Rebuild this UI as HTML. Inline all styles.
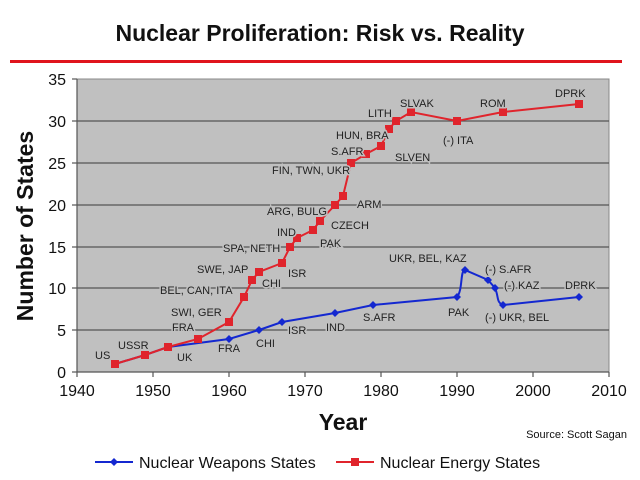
<!DOCTYPE html>
<html><head><meta charset="utf-8"><style>
html,body{margin:0;padding:0;background:#fff;}
svg{display:block;font-family:"Liberation Sans",Arial,sans-serif;}
.l{font-size:11px;fill:#222;stroke:#c0c0c0;stroke-width:3px;paint-order:stroke;}
.t{font-size:16px;fill:#111;}
</style></head><body>
<svg width="640" height="480" viewBox="0 0 640 480">
<text x="320" y="41" text-anchor="middle" font-size="23" font-weight="bold" fill="#111">Nuclear Proliferation: Risk vs. Reality</text>
<rect x="10" y="60" width="612" height="3" fill="#e0141c"/>
<rect x="77" y="79" width="532" height="293" fill="#c0c0c0" stroke="#888" stroke-width="1"/>
<g stroke="#555" stroke-width="1.2">
<line x1="77" y1="121" x2="609" y2="121"/><line x1="77" y1="163" x2="609" y2="163"/>
<line x1="77" y1="205" x2="609" y2="205"/><line x1="77" y1="247" x2="609" y2="247"/>
<line x1="77" y1="288" x2="609" y2="288"/><line x1="77" y1="330" x2="609" y2="330"/>
<line x1="77" y1="372" x2="609" y2="372"/><line x1="77" y1="79" x2="77" y2="372"/>
</g>
<g stroke="#555" stroke-width="1.2">
<line x1="72" y1="79" x2="77" y2="79"/><line x1="72" y1="121" x2="77" y2="121"/><line x1="72" y1="163" x2="77" y2="163"/><line x1="72" y1="205" x2="77" y2="205"/><line x1="72" y1="247" x2="77" y2="247"/><line x1="72" y1="288" x2="77" y2="288"/><line x1="72" y1="330" x2="77" y2="330"/><line x1="72" y1="372" x2="77" y2="372"/>
<line x1="77" y1="372" x2="77" y2="377"/><line x1="153" y1="372" x2="153" y2="377"/><line x1="229" y1="372" x2="229" y2="377"/><line x1="305" y1="372" x2="305" y2="377"/><line x1="381" y1="372" x2="381" y2="377"/><line x1="457" y1="372" x2="457" y2="377"/><line x1="533" y1="372" x2="533" y2="377"/><line x1="609" y1="372" x2="609" y2="377"/>
</g>
<g class="t" text-anchor="end">
<text x="66" y="85">35</text><text x="66" y="127">30</text><text x="66" y="169">25</text><text x="66" y="211">20</text><text x="66" y="253">15</text><text x="66" y="294">10</text><text x="66" y="336">5</text><text x="66" y="378">0</text>
</g>
<g class="t" text-anchor="middle">
<text x="77" y="396">1940</text><text x="153" y="396">1950</text><text x="229" y="396">1960</text><text x="305" y="396">1970</text><text x="381" y="396">1980</text><text x="457" y="396">1990</text><text x="533" y="396">2000</text><text x="609" y="396">2010</text>
</g>
<text x="343" y="430" text-anchor="middle" font-size="23" font-weight="bold" fill="#111">Year</text>
<text transform="translate(33,226) rotate(-90)" text-anchor="middle" font-size="23" font-weight="bold" fill="#111">Number of States</text>
<text x="627" y="438" text-anchor="end" font-size="11" fill="#111">Source: Scott Sagan</text>
<!-- blue -->
<path d="M115,364 L145,355 L168,347 L229,339 L259,330 L282,322 L335,313 L373,305 L457,297 C463,290 460,270 465,270 L488,280 L495,288 C499,297 496,302 503,305 L579,297" fill="none" stroke="#1428d0" stroke-width="2"/>
<g fill="#1428d0">
<path d="M115,360l4,4l-4,4l-4,-4z"/><path d="M145,351l4,4l-4,4l-4,-4z"/><path d="M168,343l4,4l-4,4l-4,-4z"/><path d="M229,335l4,4l-4,4l-4,-4z"/><path d="M259,326l4,4l-4,4l-4,-4z"/><path d="M282,318l4,4l-4,4l-4,-4z"/><path d="M335,309l4,4l-4,4l-4,-4z"/><path d="M373,301l4,4l-4,4l-4,-4z"/><path d="M457,293l4,4l-4,4l-4,-4z"/><path d="M465,266l4,4l-4,4l-4,-4z"/><path d="M488,276l4,4l-4,4l-4,-4z"/><path d="M495,284l4,4l-4,4l-4,-4z"/><path d="M503,301l4,4l-4,4l-4,-4z"/><path d="M579,293l4,4l-4,4l-4,-4z"/>
</g>
<!-- red -->
<polyline points="115,364 145,355 168,347 198,339 229,322 244,297 252,280 259,272 282,263 290,247 297,238 313,230 320,221 335,205 343,196 351,163 366,154 381,146 389,129 396,121 411,112 457,121 503,112 579,104" fill="none" stroke="#e0242c" stroke-width="2"/>
<g fill="#e0242c">
<rect x="111" y="360" width="8" height="8"/><rect x="141" y="351" width="8" height="8"/><rect x="164" y="343" width="8" height="8"/><rect x="194" y="335" width="8" height="8"/><rect x="225" y="318" width="8" height="8"/><rect x="240" y="293" width="8" height="8"/><rect x="248" y="276" width="8" height="8"/><rect x="255" y="268" width="8" height="8"/><rect x="278" y="259" width="8" height="8"/><rect x="286" y="243" width="8" height="8"/><rect x="293" y="234" width="8" height="8"/><rect x="309" y="226" width="8" height="8"/><rect x="316" y="217" width="8" height="8"/><rect x="331" y="201" width="8" height="8"/><rect x="339" y="192" width="8" height="8"/><rect x="347" y="159" width="8" height="8"/><rect x="362" y="150" width="8" height="8"/><rect x="377" y="142" width="8" height="8"/><rect x="385" y="125" width="8" height="8"/><rect x="392" y="117" width="8" height="8"/><rect x="407" y="108" width="8" height="8"/><rect x="453" y="117" width="8" height="8"/><rect x="499" y="108" width="8" height="8"/><rect x="575" y="100" width="8" height="8"/>
</g>
<g class="l">
<text x="95" y="359">US</text><text x="118" y="349">USSR</text><text x="177" y="361">UK</text><text x="172" y="331">FRA</text><text x="171" y="316">SWI, GER</text><text x="160" y="294">BEL, CAN, ITA</text><text x="197" y="273">SWE, JAP</text><text x="262" y="287">CHI</text><text x="288" y="277">ISR</text><text x="223" y="252">SPA, NETH</text><text x="277" y="236">IND</text><text x="320" y="247">PAK</text><text x="267" y="215">ARG, BULG</text><text x="331" y="229">CZECH</text><text x="272" y="174">FIN, TWN, UKR</text><text x="331" y="155">S.AFR</text><text x="336" y="139">HUN, BRA</text><text x="368" y="117">LITH</text><text x="400" y="107">SLVAK</text><text x="357" y="208">ARM</text><text x="395" y="161">SLVEN</text><text x="443" y="144">(-) ITA</text><text x="480" y="107">ROM</text><text x="555" y="97">DPRK</text>
<text x="218" y="352">FRA</text><text x="256" y="347">CHI</text><text x="288" y="334">ISR</text><text x="326" y="331">IND</text><text x="363" y="321">S.AFR</text><text x="448" y="316">PAK</text><text x="389" y="262">UKR, BEL, KAZ</text><text x="485" y="273">(-) S.AFR</text><text x="504" y="289">(-) KAZ</text><text x="565" y="289">DPRK</text><text x="485" y="321">(-) UKR, BEL</text>
</g>
<!-- legend -->
<line x1="95" y1="462" x2="133" y2="462" stroke="#1428d0" stroke-width="2"/>
<path d="M114,458l4,4l-4,4l-4,-4z" fill="#1428d0"/>
<text x="139" y="468" font-size="16" fill="#111">Nuclear Weapons States</text>
<line x1="336" y1="462" x2="374" y2="462" stroke="#e0242c" stroke-width="2"/>
<rect x="351" y="458" width="8" height="8" fill="#e0242c"/>
<text x="380" y="468" font-size="16" fill="#111">Nuclear Energy States</text>
</svg>
</body></html>
